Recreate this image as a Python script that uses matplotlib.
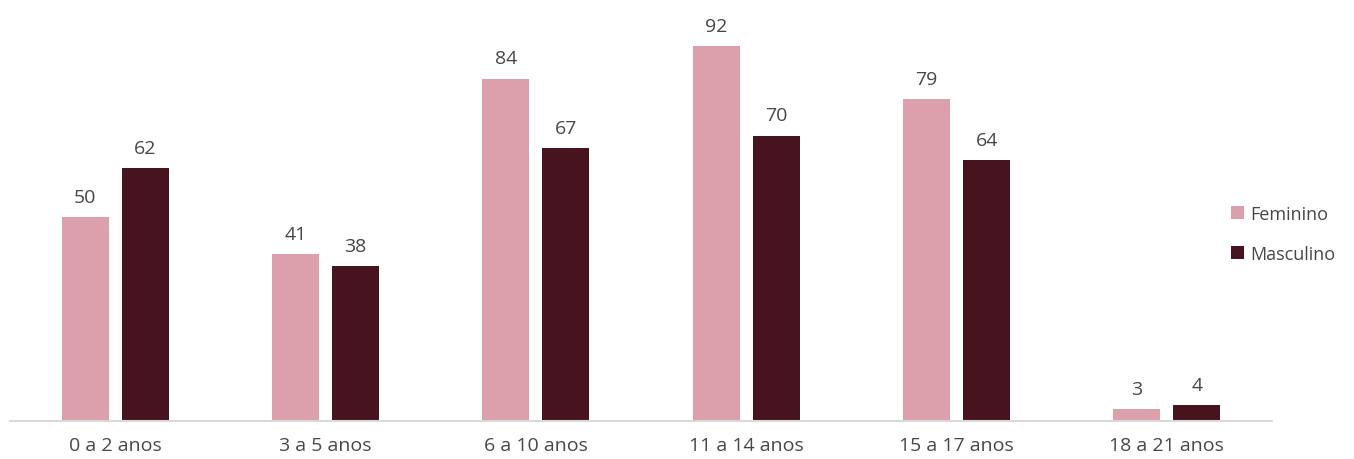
import numpy as np
import matplotlib.pyplot as plt

categories = ["0 a 2 anos", "3 a 5 anos", "6 a 10 anos", "11 a 14 anos", "15 a 17 anos", "18 a 21 anos"]
feminino = [50, 41, 84, 92, 79, 3]
masculino = [62, 38, 67, 70, 64, 4]

pink = "#DCA0AC"
dark = "#46131F"
txt = "#474747"

plt.rcParams['font.family'] = ['Open Sans', 'DejaVu Sans']

fig = plt.figure(figsize=(13.54, 4.6), dpi=100)
ax = fig.add_axes([10 / 1354, 0.0826, 1262 / 1354, 0.9174])

x = np.arange(len(categories))
w = 0.224
off = 0.143
b1 = ax.bar(x - off, feminino, w, color=pink, label="Feminino")
b2 = ax.bar(x + off, masculino, w, color=dark, label="Masculino")

for bars in (b1, b2):
    for r in bars:
        ax.annotate(str(int(r.get_height())), (r.get_x() + r.get_width() / 2, r.get_height()),
                    xytext=(0, 8), textcoords="offset points", ha="center", va="bottom",
                    fontsize=14, color=txt)

ax.set_xlim(-0.5, len(categories) - 0.5)
ax.set_ylim(0, 103.5)
ax.set_xticks(x)
ax.set_xticklabels(categories, fontsize=14, color=txt)
ax.tick_params(axis="x", length=0, pad=11)
ax.set_yticks([])
for s in ["top", "right", "left"]:
    ax.spines[s].set_visible(False)
ax.spines["bottom"].set_color("#D9D9D9")
ax.spines["bottom"].set_linewidth(1.5)

fig.legend(loc="center left", bbox_to_anchor=(0.897, 0.4895), frameon=False, fontsize=13,
           labelcolor=txt, handlelength=0.75, handleheight=0.75, handletextpad=0.35, labelspacing=1.2)

fig.savefig("out.png", dpi=100)
